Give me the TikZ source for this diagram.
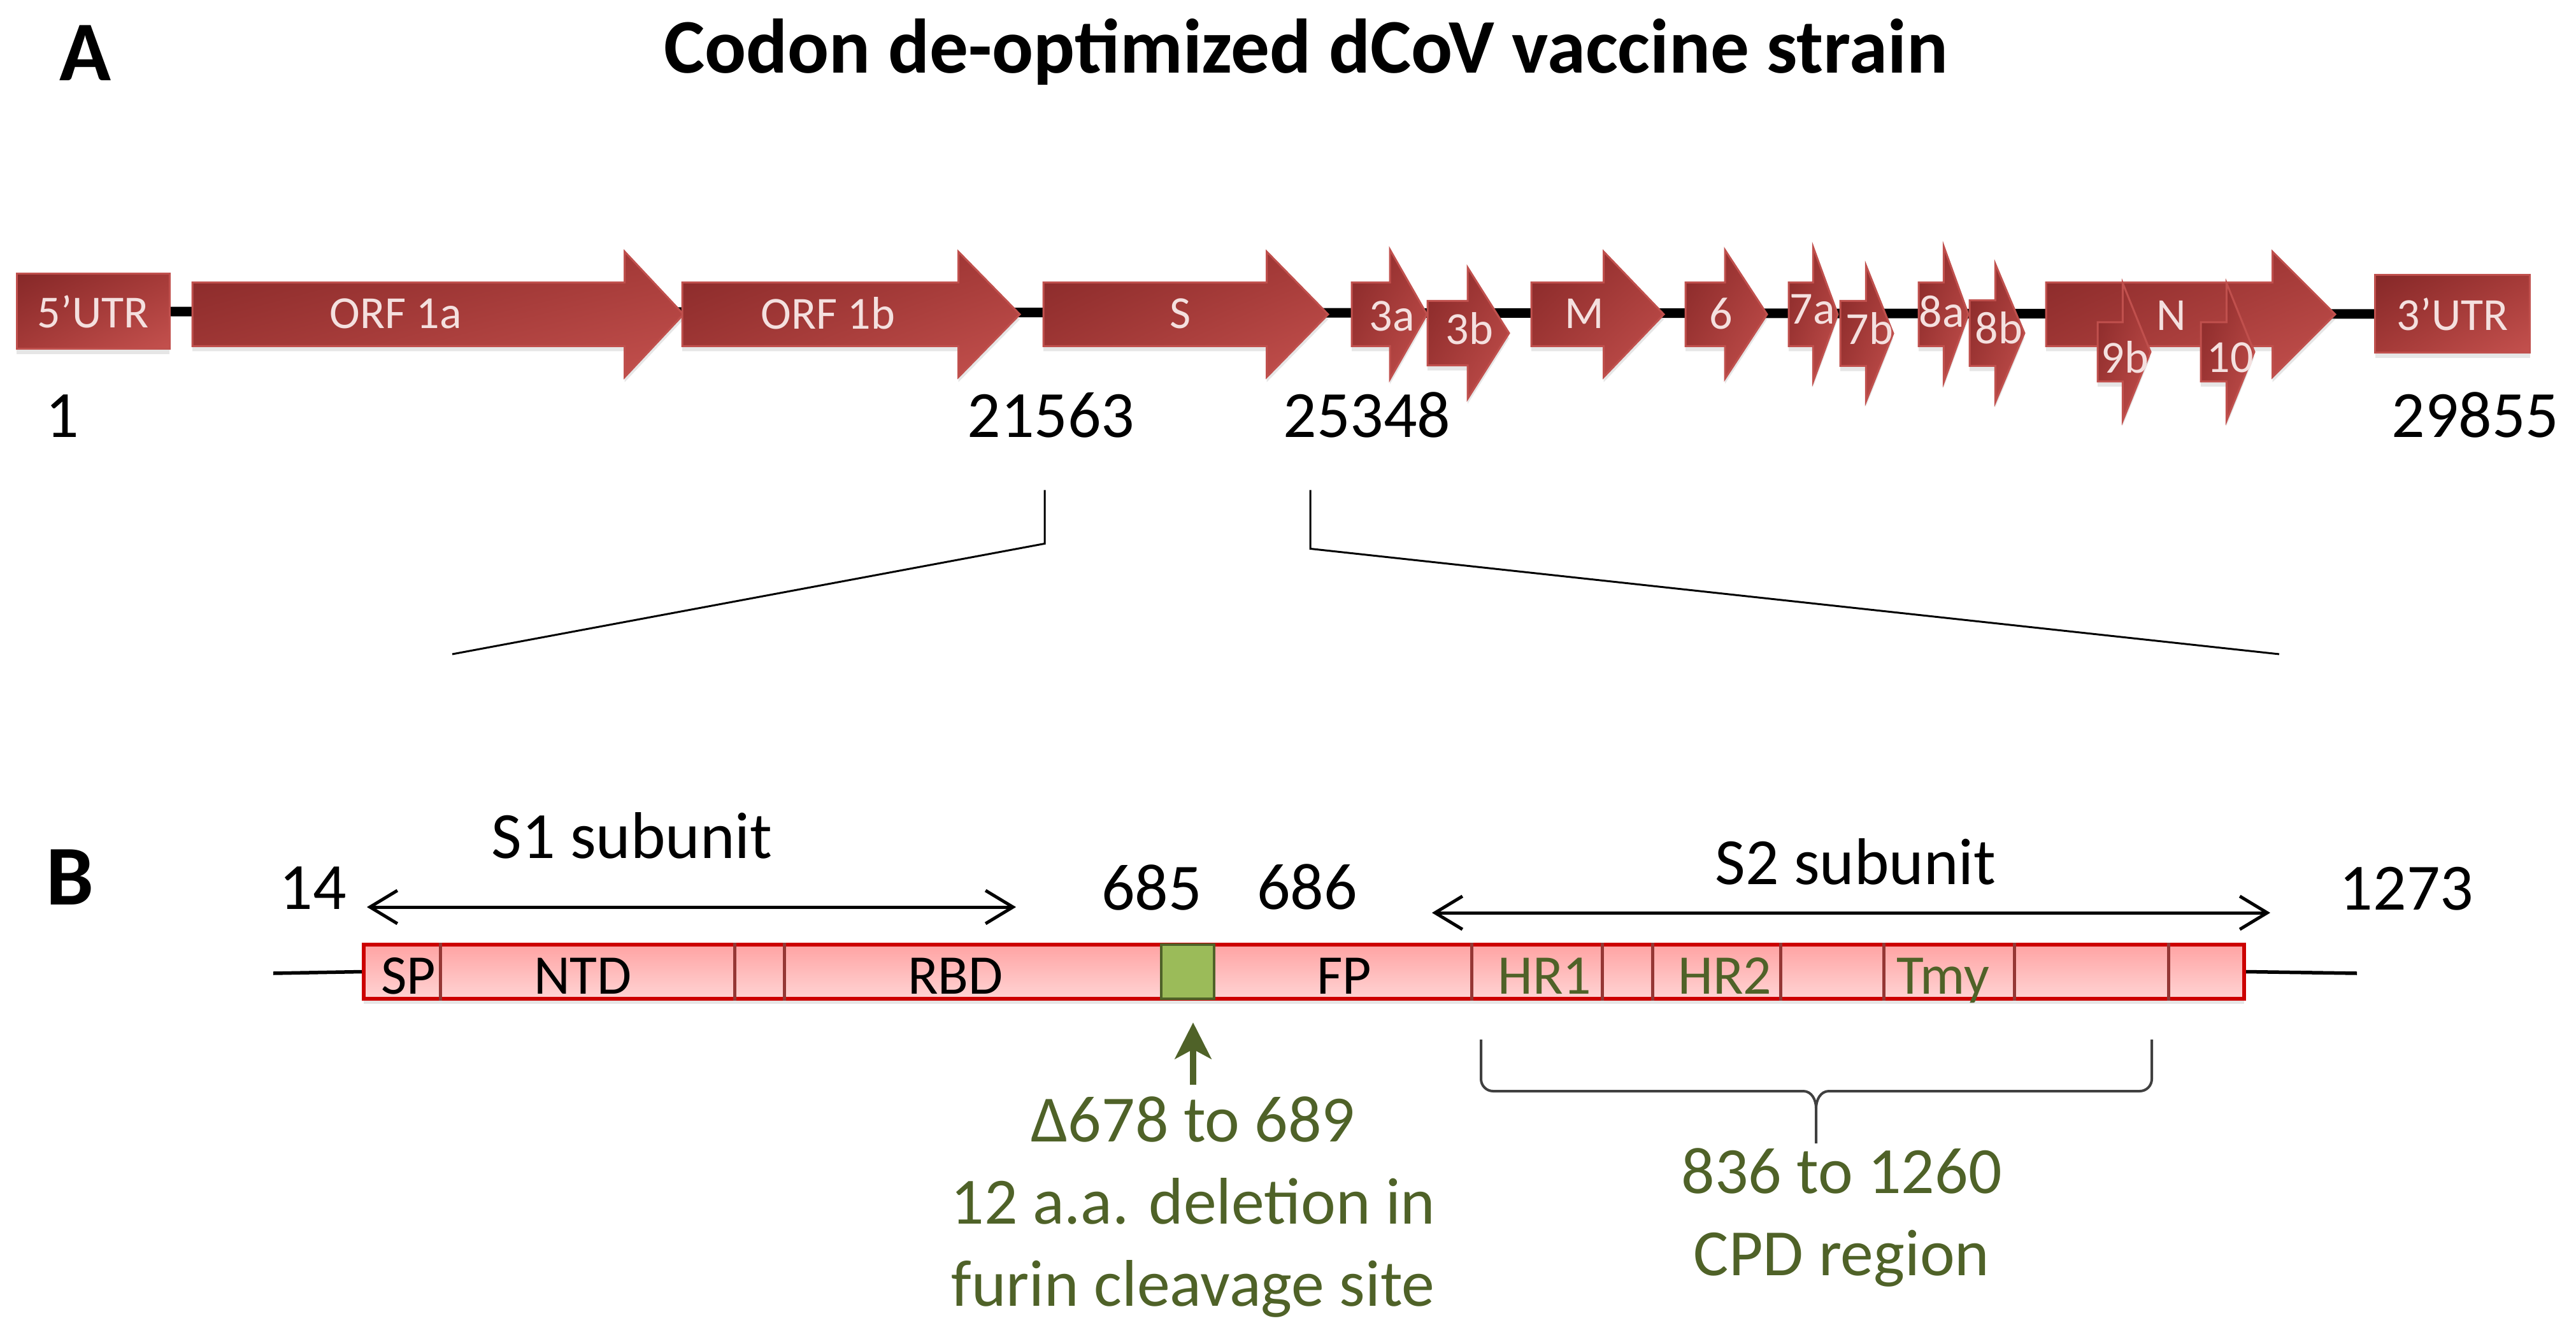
\documentclass[tikz,border=0pt]{standalone}
\usepackage{fontspec}
\setmainfont{Carlito}
\usepackage{tikz}
\usetikzlibrary{shapes.arrows,arrows.meta,shadows,shadings,backgrounds}
\usepackage{xcolor}
\definecolor{GeneDark}{RGB}{134,40,40}
\definecolor{GeneMid}{RGB}{165,58,56}
\definecolor{GeneLight}{RGB}{196,81,78}
\definecolor{GeneEdge}{RGB}{192,80,77}
\definecolor{GeneText}{RGB}{244,224,223}
\definecolor{BarRed}{RGB}{204,0,0}
\definecolor{BarTop}{RGB}{255,163,163}
\definecolor{BarBottom}{RGB}{255,212,212}
\definecolor{DivRed}{RGB}{149,55,53}
\definecolor{FurinGreen}{RGB}{155,187,89}
\definecolor{Olive}{RGB}{79,98,40}
\definecolor{BraceGray}{RGB}{64,64,64}

\begin{document}
\begin{tikzpicture}[
  gene/.style 2 args={single arrow,anchor=tail,draw=GeneEdge,line width=0.03cm,
              upper left=GeneDark,upper right=GeneMid,lower left=GeneMid,
              lower right=GeneLight,inner xsep=0pt,inner ysep=0.485cm,outer sep=0pt,
              minimum height=#1,single arrow tip angle=#2,
              single arrow head extend=0.485cm,
              drop shadow={shadow xshift=0pt,shadow yshift=-0.08cm,opacity=0.2}},
  utr/.style={rectangle,draw=GeneEdge,line width=0.03cm,
              upper left=GeneDark,upper right=GeneMid,lower left=GeneMid,
              lower right=GeneLight,inner sep=0pt,text=GeneText,
              font=\fontsize{20.5}{24}\selectfont,
              drop shadow={shadow xshift=0pt,shadow yshift=-0.08cm,opacity=0.2}},
  genetext/.style={text=GeneText,font=\fontsize{20.5}{24}\selectfont,inner sep=0pt},
  num/.style={font=\fontsize{29.5}{35}\selectfont,inner sep=0pt,anchor=base},
  panel/.style={font=\fontsize{38}{44}\selectfont\bfseries,inner sep=0pt,anchor=base},
  barlab/.style={font=\fontsize{25}{30}\selectfont,inner sep=0pt,anchor=base},
  greentext/.style={text=Olive,font=\fontsize{29.5}{36.7}\selectfont,
                    align=center,inner sep=0pt,anchor=base},
  zoomline/.style={line width=0.03cm},
  subarrow/.style={line width=0.05cm,
                   {Straight Barb[length=0.43cm,width=0.52cm]}-{Straight Barb[length=0.43cm,width=0.52cm]}},
]
\useasboundingbox (0,0) rectangle (40.44,-20.99);

% ---- Panel A: genome map
\node[panel] (pa) at (1.34,-1.27) {A};
\node[font=\fontsize{34.5}{42}\selectfont\bfseries,inner sep=0pt,anchor=base] (ttl)
  at (20.50,-1.15) {Codon de-optimized dCoV vaccine strain};

\node[utr,minimum width=2.40cm,minimum height=1.18cm] (utr5) at (1.46,-4.89) {5’UTR};
\node[utr,minimum width=2.43cm,minimum height=1.22cm] (utr3) at (38.50,-4.93) {3’UTR};

% genes (tail at left end of the shaft)
\node[gene={7.71cm}{93.7}] (orf1a) at (3.02,-4.935) {};
\node[gene={5.30cm}{91.2}] (orf1b) at (10.71,-4.935) {};
\node[gene={4.47cm}{91.2}] (sgene) at (16.38,-4.935) {};
\node[gene={1.18cm}{120.6},single arrow head extend=0.515cm] (g3a) at (21.22,-4.935) {};
\node[gene={1.28cm}{115.5},inner ysep=0.49cm,single arrow head extend=0.525cm] (g3b) at (22.41,-5.23) {};
\node[gene={2.08cm}{92.4}] (gM) at (24.04,-4.935) {};
\node[gene={1.28cm}{113.7},single arrow head extend=0.51cm] (g6) at (26.46,-4.935) {};
\node[gene={0.77cm}{139.8},single arrow head extend=0.555cm] (g7a) at (28.08,-4.935) {};
\node[gene={0.83cm}{136.4},inner ysep=0.495cm,single arrow head extend=0.555cm] (g7b) at (28.89,-5.235) {};
\node[gene={0.78cm}{140.2},single arrow head extend=0.565cm] (g8a) at (30.12,-4.935) {};
\node[gene={0.86cm}{134.4},inner ysep=0.50cm,single arrow head extend=0.57cm] (g8b) at (30.92,-5.23) {};
\node[gene={4.54cm}{90}] (gN) at (32.12,-4.935) {};
\node[gene={0.83cm}{136.0},inner ysep=0.45cm,single arrow head extend=0.615cm] (g9b) at (32.93,-5.525) {};
\node[gene={0.84cm}{136.0},inner ysep=0.45cm,single arrow head extend=0.615cm] (g10) at (34.55,-5.525) {};

\node[genetext] (t1a) at (6.21,-4.92) {ORF 1a};
\node[genetext] (t1b) at (13.00,-4.92) {ORF 1b};
\node[genetext] (tS) at (18.53,-4.92) {S};
\node[genetext] (t3a) at (21.85,-4.96) {3a};
\node[genetext] (t3b) at (23.07,-5.16) {3b};
\node[genetext] (tM) at (24.87,-4.92) {M};
\node[genetext] (t6) at (27.02,-4.92) {6};
\node[genetext] (t7a) at (28.45,-4.86) {7a};
\node[genetext] (t7b) at (29.35,-5.16) {7b};
\node[genetext] (t8a) at (30.48,-4.89) {8a};
\node[genetext] (t8b) at (31.38,-5.15) {8b};
\node[genetext] (tN) at (34.09,-4.95) {N};
\node[genetext] (t9b) at (33.36,-5.61) {9b};
\node[genetext] (t10) at (35.01,-5.61) {10};

\begin{scope}[on background layer]
  \draw[line width=0.15cm] (utr5.east) -- (utr3.west);
\end{scope}

% positions
\node[num] (p1) at (0.98,-6.87) {1};
\node[num] (p21563) at (16.50,-6.87) {21563};
\node[num] (p25348) at (21.46,-6.87) {25348};
\node[num] (p29855) at (38.86,-6.87) {29855};

% zoom into S
\coordinate (zl) at (7.10,-10.27);
\coordinate (zr) at (35.78,-10.27);
\draw[zoomline] ([xshift=-0.1cm,yshift=-0.81cm]p21563.south) -- ++(0,-0.84) -- (zl);
\draw[zoomline] ([xshift=-0.89cm,yshift=-0.81cm]p25348.south) -- ++(0,-0.92) -- (zr);

% ---- Panel B: spike protein
\node[panel] (pb) at (1.10,-14.20) {B};

\node[rectangle,draw=BarRed,line width=0.06cm,top color=BarTop,bottom color=BarBottom,
      minimum width=29.52cm,minimum height=0.85cm,inner sep=0pt,
      drop shadow={shadow xshift=0pt,shadow yshift=-0.08cm,opacity=0.2}]
  (spike) at (20.47,-15.255) {};
\foreach \x in {6.91,11.53,12.31,23.10,25.15,25.94,27.95,29.57,31.62,34.04}
  \draw[DivRed,line width=0.05cm] (spike.north -| \x,0) -- (spike.south -| \x,0);
\node[rectangle,draw=Olive,line width=0.045cm,fill=FurinGreen,
      minimum width=0.83cm,minimum height=0.85cm,inner sep=0pt] (furin) at (18.645,-15.255) {};

\coordinate (lend) at (4.29,-15.28);
\coordinate (rend) at (37.00,-15.28);
\draw[line width=0.055cm] (lend) -- (spike.west);
\draw[line width=0.055cm] (spike.east) -- (rend);

\node[barlab] (lSP) at (6.41,-15.60) {SP};
\node[barlab] (lNTD) at (9.15,-15.60) {NTD};
\node[barlab] (lRBD) at (15.00,-15.60) {RBD};
\node[barlab] (lFP) at (21.10,-15.60) {FP};
\node[barlab,text=Olive] (lHR1) at (24.25,-15.60) {HR1};
\node[barlab,text=Olive] (lHR2) at (27.08,-15.60) {HR2};
\node[barlab,text=Olive] (lTmy) at (30.50,-15.60) {Tmy};

\node[num] (n14) at (4.91,-14.27) {14};
\node[num] (n685) at (18.08,-14.28) {685};
\node[num] (n686) at (20.52,-14.27) {686};
\node[num] (n1273) at (37.78,-14.28) {1273};

% subunits
\coordinate (s1a) at (5.76,-14.24);
\coordinate (s1b) at (15.95,-14.24);
\coordinate (s2a) at (22.48,-14.33);
\coordinate (s2b) at (35.64,-14.33);
\draw[subarrow] (s1a) -- (s1b);
\draw[subarrow] (s2a) -- (s2b);
\node[num] (s1) at (9.92,-13.47) {S1 subunit};
\node[num] (s2) at (29.13,-13.88) {S2 subunit};

% furin site deletion (base = last line)
\node[greentext] (del) at (18.73,-20.50) {Δ678 to 689\\12 a.a. deletion in\\furin cleavage site};
\draw[Olive,line width=0.1cm,-{Stealth[length=0.57cm,width=0.57cm,inset=0.15cm]}]
  ([yshift=0.18cm]del.north) -- ([yshift=-0.35cm]del.north |- furin.south);

% CPD region
\coordinate (brl) at (23.25,-16.32);
\coordinate (brr) at (33.78,-16.32);
\coordinate (brt) at (28.51,-17.95);
\draw[BraceGray,line width=0.04cm]
  (brl) -- (23.25,-16.94) to[out=-90,in=180] (23.44,-17.13) -- (28.31,-17.13)
  to[out=0,in=90] (28.51,-17.40) -- (brt);
\draw[BraceGray,line width=0.04cm]
  (brr) -- (33.78,-16.94) to[out=-90,in=0] (33.59,-17.13) -- (28.71,-17.13)
  to[out=180,in=90] (28.51,-17.40);
\node[greentext] (cpd) at (28.91,-20.02) {836 to 1260\\CPD region};
\end{tikzpicture}
\end{document}
